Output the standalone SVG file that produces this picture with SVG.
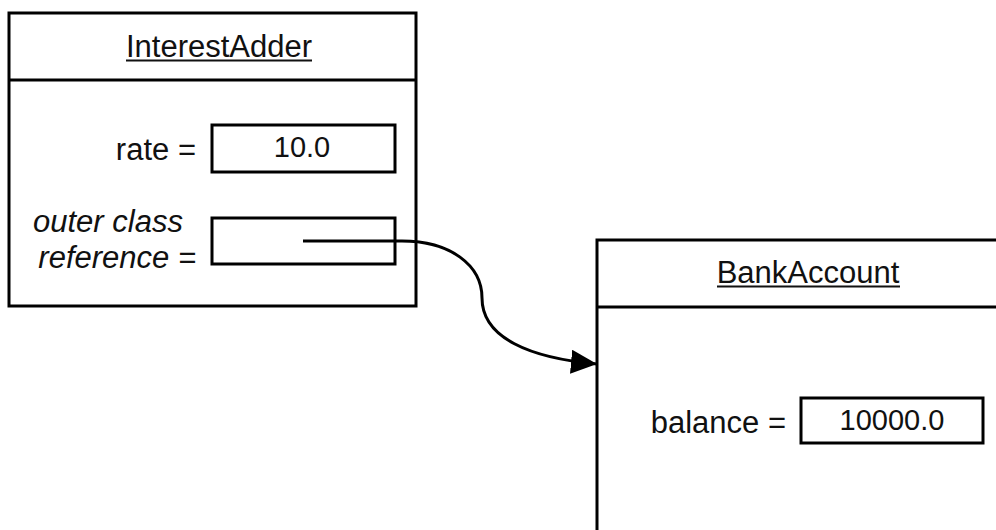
<svg xmlns="http://www.w3.org/2000/svg" width="996" height="530" viewBox="0 0 996 530">
<style>
.box{fill:#fff;stroke:#000;stroke-width:3}
.fld{fill:none;stroke:#000;stroke-width:3}
.t{font-family:"Liberation Sans",Arial,sans-serif;font-size:31px;fill:#111}
.n{font-size:29px}
.i{font-style:italic}
.ul{stroke:#111;stroke-width:2}
.conn{fill:none;stroke:#000;stroke-width:3}
</style>
<defs>
<marker id="arr" markerUnits="userSpaceOnUse" markerWidth="30" markerHeight="30" refX="26" refY="12" orient="auto">
<path d="M0,0 L26,12 L0,24 Z" fill="#000"/>
</marker>
</defs>
<rect width="996" height="530" fill="#fff"/>
<g id="interestAdder">
<rect class="box" x="9" y="13" width="407" height="293"/>
<line class="fld" x1="9" y1="80" x2="416" y2="80"/>
<text class="t" x="219" y="57" text-anchor="middle">InterestAdder</text>
<line class="ul" x1="126" y1="60.5" x2="312" y2="60.5"/>
<text class="t" x="196" y="160" text-anchor="end">rate =</text>
<rect class="fld" x="212" y="125" width="183" height="47"/>
<text class="t n" x="302" y="157" text-anchor="middle">10.0</text>
<text class="t i" x="33" y="232">outer class</text>
<text class="t i" x="196" y="268" text-anchor="end">reference =</text>
<rect class="fld" x="212" y="218" width="183" height="46"/>
</g>
<g id="bankAccount">
<path class="box" d="M1000,240 L597,240 L597,535"/>
<line class="fld" x1="597" y1="307" x2="1000" y2="307"/>
<text class="t" x="808" y="283" text-anchor="middle">BankAccount</text>
<line class="ul" x1="717" y1="286.5" x2="900" y2="286.5"/>
<text class="t" x="786" y="433" text-anchor="end">balance =</text>
<rect class="fld" x="801" y="398" width="182" height="45"/>
<text class="t n" x="892" y="430" text-anchor="middle">10000.0</text>
</g>
<g id="connectors">
<path class="conn" d="M303,241 L402,241 C450,241 482,265 482,298 C482,338 530,358 597,364" marker-end="url(#arr)"/>
</g>
</svg>
